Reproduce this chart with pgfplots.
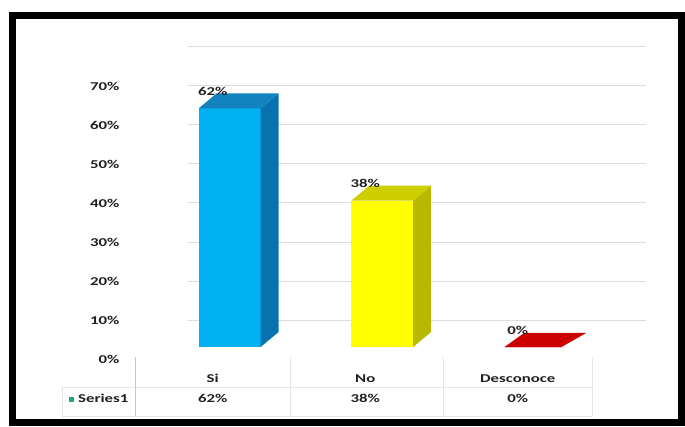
\documentclass[border=0pt]{standalone}
\usepackage{fontspec}
\setmainfont{Carlito}[FakeStretch=1.4]
\usepackage{pgfplots}
\pgfplotsset{compat=1.18}
\definecolor{bluefront}{HTML}{00B0F0}
\definecolor{blueside}{HTML}{0872AE}
\definecolor{bluetop}{HTML}{1283BE}
\definecolor{yelfront}{HTML}{FFFF00}
\definecolor{yelside}{HTML}{B8B800}
\definecolor{yeltop}{HTML}{CFCF00}
\definecolor{redtop}{HTML}{CC0000}
\definecolor{legendgreen}{HTML}{1FA77A}
\definecolor{gridgray}{HTML}{DDDDDD}
\definecolor{tablegray}{HTML}{E6E6E6}
\definecolor{txt}{HTML}{202020}
\begin{document}
\begin{tikzpicture}[x=1pt,y=1pt]
\useasboundingbox (0,0) rectangle (685,426);
% back wall: gridlines and value axis labels
\begin{axis}[
  at={(188pt,67pt)}, anchor=south west, scale only axis,
  width=458pt, height=312pt,
  xmin=0, xmax=1, ymin=0, ymax=80,
  xtick=\empty,
  ytick={0,10,...,70},
  yticklabels={0\%,10\%,20\%,30\%,40\%,50\%,60\%,70\%},
  extra y ticks={10,20,...,80},
  extra y tick labels={},
  extra y tick style={grid=major, major grid style={gridgray, line width=1pt}},
  axis line style={draw=none},
  major tick length=0pt,
  /pgf/number format/assume math mode=true,
  yticklabel style={anchor=east, xshift=-65pt, text=txt,
    font=\bfseries\fontsize{12}{14}\selectfont},
]
\end{axis}
% bars and data table
\begin{axis}[
  at={(136.5pt,79pt)}, anchor=south west, scale only axis,
  width=457.5pt, height=308pt,
  xmin=-0.5, xmax=2.5, ymin=0, ymax=80,
  clip=false,
  axis line style={draw=none},
  ytick=\empty,
  xtick={0,1,2},
  xticklabels={{Si\\[6pt]62\%},{No\\[6pt]38\%},{Desconoce\\[6pt]0\%}},
  major tick length=0pt,
  xticklabel style={align=center, yshift=-24pt, text=txt,
    font=\bfseries\fontsize{12}{14}\selectfont},
  nodes near coords style={anchor=center, yshift=17pt, text=txt,
    font=\bfseries\fontsize{12}{14}\selectfont},
]
% Si = 62
\addplot[ybar, bar width=0.406, bar shift=0.111, fill=bluefront, draw=none,
  point meta=explicit symbolic, nodes near coords] coordinates {(0,62) [62\%]};
\addplot[fill=blueside, draw=none] coordinates {(0.314,0) (0.432,3.9) (0.432,65.9) (0.314,62)};
\addplot[fill=bluetop, draw=none] coordinates {(-0.092,62) (0.026,65.9) (0.432,65.9) (0.314,62)};
% No = 38
\addplot[ybar, bar width=0.406, bar shift=0.111, fill=yelfront, draw=none,
  point meta=explicit symbolic, nodes near coords] coordinates {(1,38) [38\%]};
\addplot[fill=yelside, draw=none] coordinates {(1.314,0) (1.432,3.9) (1.432,41.9) (1.314,38)};
\addplot[fill=yeltop, draw=none] coordinates {(0.908,38) (1.026,41.9) (1.432,41.9) (1.314,38)};
% Desconoce = 0
\addplot[fill=redtop, draw=none] coordinates {(1.913,0) (2.044,3.7) (2.451,3.7) (2.287,0)};
\addplot[ybar, bar width=0.406, bar shift=0.111, fill=redtop, draw=none,
  point meta=explicit symbolic, nodes near coords] coordinates {(2,0) [0\%]};
\end{axis}
% data table rules
\draw[tablegray, line width=0.8pt] (62,39) -- (592,39);
\draw[tablegray, line width=0.8pt] (62,10) -- (592,10);
\draw[tablegray, line width=0.8pt] (62,39) -- (62,10);
\draw[tablegray!70!gray, line width=0.8pt] (135,69) -- (135,10);
\draw[tablegray, line width=0.8pt] (290,69) -- (290,10);
\draw[tablegray, line width=0.8pt] (443,69) -- (443,10);
\draw[tablegray, line width=0.8pt] (592,69) -- (592,10);
\node[anchor=west, inner sep=0pt, text=txt, font=\bfseries\fontsize{12}{14}\selectfont]
  at (69,28) {\textcolor{legendgreen}{\rule{5pt}{5pt}}\hspace{4pt}Series1};
% outer frame
\draw[black, line width=7pt] (12.5,3.5) rectangle (681.5,410.5);
\end{tikzpicture}
\end{document}
